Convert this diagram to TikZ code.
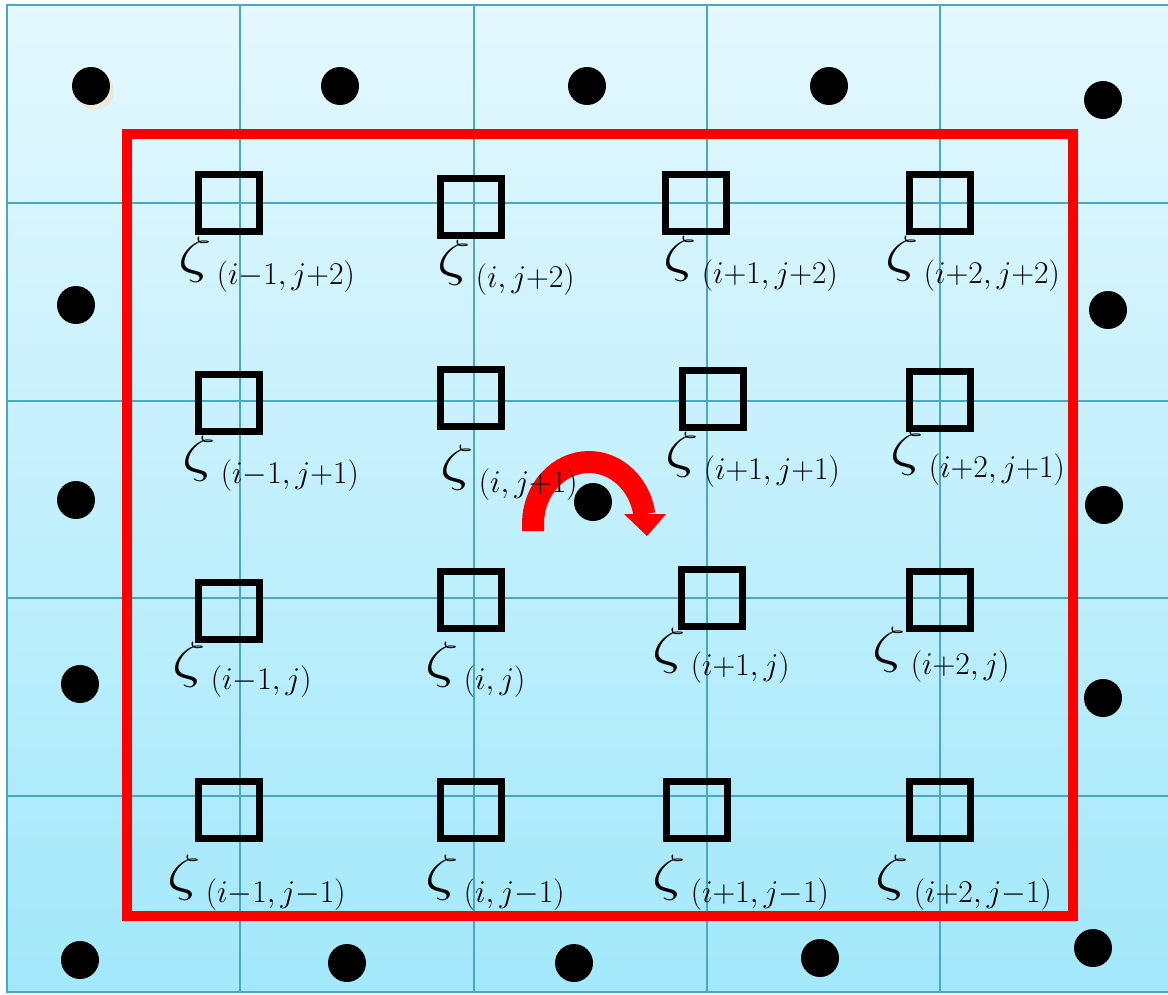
\RequirePackage{fix-cm}
\documentclass[tikz,border=0pt]{standalone}
\usepackage{graphicx}
\DeclareMathSizes{29}{29}{18}{13}
\definecolor{gridteal}{RGB}{74,168,198}
\definecolor{bgtop}{RGB}{228,248,254}
\definecolor{bgbot}{RGB}{162,232,251}
\definecolor{shadowbeige}{RGB}{236,232,220}
\newcommand{\zsub}[1]{${\mbox{\scalebox{1.3}[1]{$\zeta$}}}_{\,(#1)}$}

\begin{document}
\begin{tikzpicture}[
    x=0.02cm, y=-0.02cm,
    gl/.style={gridteal, line width=0.04cm},
    cell/.style={draw, line width=0.14cm, minimum width=1.22cm, minimum height=1.14cm, inner sep=0pt},
    pt/.style={circle, fill=black, minimum size=0.76cm, inner sep=0pt},
    lbl/.style={anchor=north west, inner sep=0pt, font=\fontsize{29}{34}\selectfont},
    frame/.style={red, line width=0.2cm},
    turn/.style={red, line width=0.44cm},
    turnhead/.style={fill=red}
]
    \useasboundingbox (0,0) rectangle (1168,994);

    % panel and grid
    \shade[top color=bgtop, bottom color=bgbot] (7,5) rectangle (1168,992);
    \draw[gl] (1168,5) -- (7,5) -- (7,992) -- (1168,992);
    \foreach \x in {240,474,707,940}
        \draw[gl] (\x,5) -- (\x,992);
    \foreach \y in {203,401,598,796}
        \draw[gl] (7,\y) -- (1168,\y);

    \draw[frame] (127,134) rectangle (1073,916);

    % outer points
    \fill[shadowbeige] (95,91) circle[radius=19];
    \foreach \x/\y [count=\k] in {91/86, 340/86, 587/86, 829/86, 1103/100,
                                  76/305, 76/500, 80/684, 80/960,
                                  347/963, 574/963, 820/958, 1093/948,
                                  1108/310, 1104/505, 1103/698}
        \node[pt] (dot\k) at (\x,\y) {};
    \node[pt] (cdot) at (593,502) {};

    % rotation
    \coordinate (tstart) at (533,531);
    \draw[turn] (tstart) -- ++(0,-7) arc[start angle=180, end angle=9, x radius=1.12cm, y radius=1.24cm] coordinate (tend);
    \fill[turnhead] (624,514) -- (666,514) -- (647,536) -- cycle;

    % cells
    \foreach \x/\y/\n in {229/203/a2, 471/207/b2, 696/203/c2, 940/203/d2,
                          229/403/a1, 471/398/b1, 713/399/c1, 940/400/d1,
                          229/611/a0, 471/600/b0, 712/598/c0, 940/600/d0,
                          229/810/am, 471/810/bm, 697/810/cm, 940/810/dm}
        \node[cell] (cell-\n) at (\x,\y) {};

    % labels
    \foreach \x/\y/\s [count=\k] in {178/237/{i-1,\,j+2}, 437/240/{i,\,j+2}, 663/236/{i+1,\,j+2}, 885/236/{i+2,\,j+2},
                                     182/436/{i-1,\,j+1}, 440/445/{i,\,j+1}, 665/432/{i+1,\,j+1}, 890/430/{i+2,\,j+1},
                                     172/642/{i-1,\,j}, 425/642/{i,\,j}, 652/628/{i+1,\,j}, 872/627/{i+2,\,j},
                                     167/855/{i-1,\,j-1}, 425/855/{i,\,j-1}, 652/855/{i+1,\,j-1}, 875/855/{i+2,\,j-1}}
        \node[lbl] (lbl\k) at (\x,\y) {\zsub{\s}};
\end{tikzpicture}
\end{document}
